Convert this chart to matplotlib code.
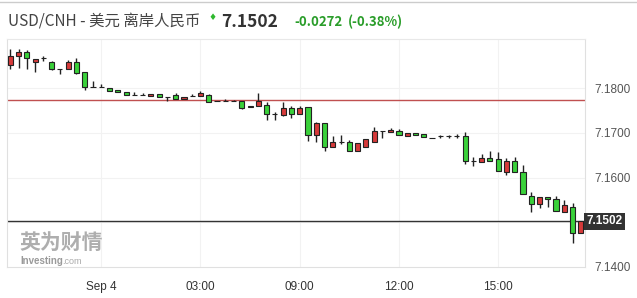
import numpy as np
import matplotlib
matplotlib.use("Agg")
import matplotlib.pyplot as plt

# 15-minute candles, USD/CNH
opens = [7.1851, 7.1872, 7.1881, 7.1859, 7.1868, 7.1859, 7.1844, 7.1843, 7.1859, 7.1836,
         7.1802, 7.1802, 7.1800, 7.1796, 7.1791, 7.1784, 7.1784, 7.1783, 7.1788, 7.1780,
         7.1785, 7.1776, 7.1782, 7.1783, 7.1785, 7.1771, 7.1771, 7.1771, 7.1771, 7.1760,
         7.1761, 7.1762, 7.1743, 7.1739, 7.1755, 7.1743, 7.1757, 7.1695, 7.1722, 7.1669,
         7.1680, 7.1679, 7.1660, 7.1669, 7.1680, 7.1704, 7.1702, 7.1704, 7.1694, 7.1699,
         7.1698, 7.1689, 7.1692, 7.1692, 7.1692, 7.1692, 7.1636, 7.1634, 7.1643, 7.1641,
         7.1613, 7.1636, 7.1613, 7.1559, 7.1542, 7.1557, 7.1552, 7.1523, 7.1535, 7.1475]
highs = [7.1888, 7.1887, 7.1885, 7.1866, 7.1872, 7.1860, 7.1844, 7.1862, 7.1868, 7.1836,
         7.1815, 7.1810, 7.1800, 7.1796, 7.1791, 7.1791, 7.1789, 7.1788, 7.1788, 7.1780,
         7.1789, 7.1780, 7.1786, 7.1794, 7.1788, 7.1771, 7.1775, 7.1773, 7.1771, 7.1760,
         7.1789, 7.1768, 7.1747, 7.1768, 7.1761, 7.1761, 7.1757, 7.1725, 7.1722, 7.1692,
         7.1696, 7.1683, 7.1678, 7.1686, 7.1714, 7.1704, 7.1710, 7.1708, 7.1699, 7.1699,
         7.1698, 7.1689, 7.1695, 7.1696, 7.1697, 7.1702, 7.1647, 7.1652, 7.1660, 7.1657,
         7.1643, 7.1645, 7.1628, 7.1568, 7.1557, 7.1557, 7.1559, 7.1550, 7.1543, 7.1502]
lows = [7.1842, 7.1845, 7.1842, 7.1837, 7.1860, 7.1840, 7.1831, 7.1843, 7.1831, 7.1797,
        7.1802, 7.1802, 7.1794, 7.1791, 7.1785, 7.1784, 7.1784, 7.1783, 7.1780, 7.1771,
        7.1775, 7.1776, 7.1782, 7.1783, 7.1769, 7.1771, 7.1771, 7.1771, 7.1754, 7.1758,
        7.1761, 7.1729, 7.1729, 7.1737, 7.1733, 7.1743, 7.1682, 7.1680, 7.1660, 7.1669,
        7.1675, 7.1660, 7.1660, 7.1669, 7.1680, 7.1688, 7.1702, 7.1695, 7.1694, 7.1696,
        7.1690, 7.1688, 7.1689, 7.1689, 7.1689, 7.1630, 7.1626, 7.1634, 7.1637, 7.1615,
        7.1606, 7.1613, 7.1563, 7.1522, 7.1531, 7.1535, 7.1525, 7.1522, 7.1453, 7.1475]
closes = [7.1873, 7.1881, 7.1867, 7.1866, 7.1868, 7.1843, 7.1844, 7.1859, 7.1834, 7.1802,
          7.1802, 7.1802, 7.1794, 7.1791, 7.1785, 7.1784, 7.1784, 7.1788, 7.1780, 7.1780,
          7.1776, 7.1780, 7.1782, 7.1789, 7.1770, 7.1771, 7.1771, 7.1771, 7.1755, 7.1758,
          7.1771, 7.1743, 7.1743, 7.1755, 7.1743, 7.1755, 7.1695, 7.1722, 7.1669, 7.1680,
          7.1680, 7.1660, 7.1678, 7.1686, 7.1704, 7.1704, 7.1707, 7.1695, 7.1699, 7.1696,
          7.1690, 7.1688, 7.1692, 7.1692, 7.1692, 7.1636, 7.1636, 7.1643, 7.1637, 7.1615,
          7.1636, 7.1613, 7.1563, 7.1542, 7.1557, 7.1553, 7.1525, 7.1538, 7.1475, 7.1502]

tick_pos = [11, 23, 35, 47, 59]
tick_labels = ["Sep 4", "03:00", "09:00", "12:00", "15:00"]
y_ticks = [7.14, 7.16, 7.17, 7.18]
prev_close = 7.1774
last_price = 7.1502

o = np.array(opens)
h = np.array(highs)
l = np.array(lows)
c = np.array(closes)
x = np.arange(len(o))

fig = plt.figure(figsize=(6.37, 2.98), dpi=100)
ax = fig.add_axes([7 / 637, 1 - 267 / 298, (585 - 7) / 637, (267 - 39) / 298])

# grid
for t in tick_pos:
    ax.axvline(t, color="#f2f2f2", lw=0.8, zorder=0)
for yv in [7.15, 7.16, 7.17, 7.18]:
    ax.axhline(yv, color="#f2f2f2", lw=0.8, zorder=0)

# chinese convention: red = up, green = down
up = c >= o
colors = np.where(up, "#d63a3a", "#3ad13a")
ax.vlines(x, l, h, color="#222222", lw=1.0, zorder=2)
ax.bar(x, np.abs(c - o), bottom=np.minimum(o, c), width=0.62,
       color=colors, edgecolor="#222222", linewidth=0.8, zorder=3)

ax.axhline(prev_close, color="#c05050", lw=1.0, zorder=1)
ax.axhline(last_price, color="#333333", lw=1.0, zorder=1)

ax.set_xlim(-0.4, 69.5)
ax.set_ylim(7.14, 7.191)

ax.set_xticks(tick_pos)
ax.set_xticklabels(tick_labels, fontsize=8.5, color="#333333", family="Liberation Sans")
ax.yaxis.tick_right()
ax.set_yticks(y_ticks)
ax.set_yticklabels([f"{v:.4f}" for v in y_ticks], fontsize=8.5, color="#555555",
                   family="Liberation Sans")
ax.tick_params(length=0, pad=7)
ax.tick_params(axis="x", pad=10)

ax.spines["top"].set_visible(False)
for s in ["left", "right", "bottom"]:
    ax.spines[s].set_color("#e0e0e0")
    ax.spines[s].set_linewidth(0.8)
ax.set_facecolor("white")

# last price box on axis
ax.text(1.003, last_price, "7.1502", transform=ax.get_yaxis_transform(),
        fontsize=8.5, fontweight="bold", color="white", family="Liberation Sans",
        va="center", ha="left",
        bbox=dict(boxstyle="square,pad=0.2", fc="#333333", ec="none"))

# top rules
fig.add_artist(plt.Line2D([0, 1], [1 - 1.5 / 298, 1 - 1.5 / 298], color="#cccccc", lw=1))
fig.add_artist(plt.Line2D([7 / 637, 585 / 637], [1 - 39 / 298, 1 - 39 / 298], color="#e8e8e8", lw=0.8))

# header
cjk = ["Noto Sans CJK SC", "DejaVu Sans"]
fig.text(8 / 637, 1 - 22 / 298, "USD/CNH - 美元 离岸人民币", fontsize=11.1, color="#444444",
         family=cjk, va="center", ha="left")
fig.text(208 / 637, 1 - 17 / 298, "♦", fontsize=6.5, color="#2eb82e",
         family="DejaVu Sans", va="center", ha="left")
fig.text(221 / 637, 1 - 22 / 298, "7.1502", fontsize=12.5, color="#333333",
         fontweight="bold", family=cjk, va="center", ha="left")
fig.text(294 / 637, 1 - 22 / 298, "-0.0272", fontsize=9.5, color="#2a9d2a",
         fontweight="bold", family=cjk, va="center", ha="left")
fig.text(348 / 637, 1 - 22 / 298, "(-0.38%)", fontsize=9.5, color="#2a9d2a",
         fontweight="bold", family=cjk, va="center", ha="left")

# watermark
fig.text(19 / 637, 1 - 242 / 298, "英为财情", fontsize=15, color="#9a9a9a",
         fontweight="black", family=cjk, va="center", ha="left", alpha=0.8)
fig.text(20 / 637, 1 - 261 / 298, "Investing", fontsize=7, color="#9a9a9a",
         fontweight="bold", family="Liberation Sans", va="center", ha="left")
fig.text(62 / 637, 1 - 261 / 298, ".com", fontsize=6.5, color="#aaaaaa",
         family="Liberation Sans", va="center", ha="left")

fig.savefig("out.png", dpi=100, facecolor="white")
